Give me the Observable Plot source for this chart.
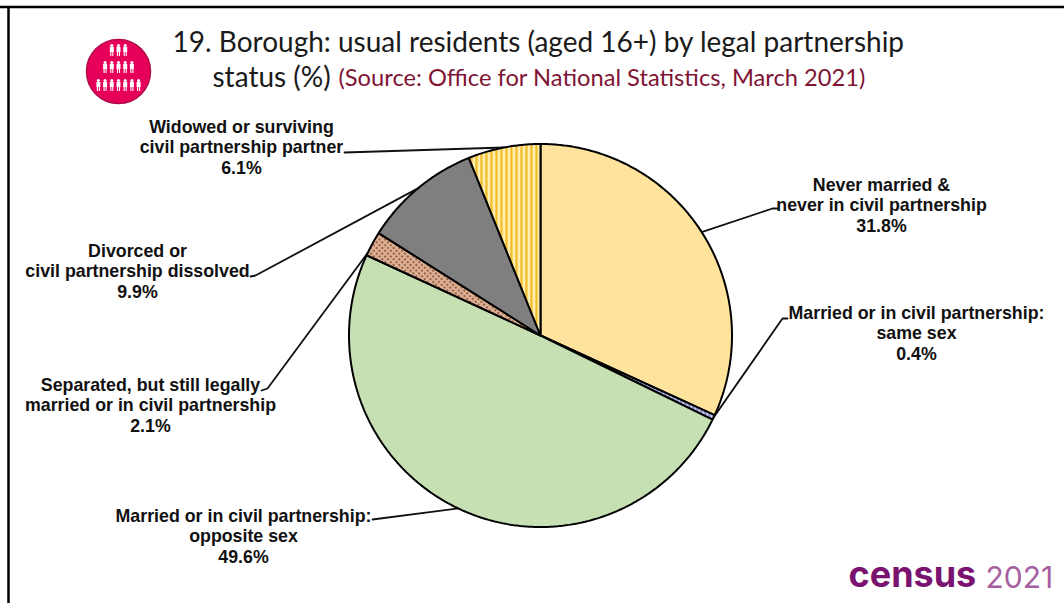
<!DOCTYPE html>
<html>
<head>
<meta charset="utf-8">
<script src="https://cdn.jsdelivr.net/npm/d3@7"></script>
<script src="https://cdn.jsdelivr.net/npm/@observablehq/plot@0.6"></script>
<style>html,body{margin:0;padding:0;background:#fff}svg{display:block}</style>
</head>
<body>
<div id="chart"></div>
<script>
// Data
const categories = [
  "Never married &\nnever in civil partnership",
  "Married or in civil partnership:\nsame sex",
  "Married or in civil partnership:\nopposite sex",
  "Separated, but still legally\nmarried or in civil partnership",
  "Divorced or\ncivil partnership dissolved",
  "Widowed or surviving\ncivil partnership partner"
];
const shares = [31.8, 0.4, 49.6, 2.1, 9.9, 6.1];
const titleLine1 = "19. Borough: usual residents (aged 16+) by legal partnership";
const titleLine2 = "status (%)";
const sourceText = "(Source: Office for National Statistics, March 2021)";
const logoRows = [3, 5, 7];

// Layout
const W = 1064, H = 603, cx = 540, cy = 335, R = 191.5;
const fills = ["url(#pNever)", "url(#pSame)", "#c6e0b4", "url(#pSep)", "#7f7f7f", "url(#pWid)"];
const labelAt = [[881, 204], [916, 332], [243, 535], [150, 404], [137, 270], [241, 146]];
const elbows = [
  [[772, 208], [777, 208]],
  [[782, 318], [787, 318]],
  [[372, 519]],
  [[267, 388], [261, 390]],
  [[255, 275], [250, 276]],
  [[344, 152]]
];
const leaderEndTurn = [null, null, null, 0.8185 + 0.0025, null, null];

const total = d3.sum(shares);
const ends = d3.cumsum(shares, v => v / total);
const polar = (turn, r = R) => ({
  x: cx + r * Math.sin(turn * 2 * Math.PI),
  y: cy - r * Math.cos(turn * 2 * Math.PI)
});
const slices = shares.map((v, i) => {
  const a0 = i ? ends[i - 1] : 0, a1 = ends[i];
  const n = Math.max(2, Math.ceil((a1 - a0) * 720));
  const arc = d3.range(n + 1).map(k => polar(a0 + (a1 - a0) * k / n));
  return [{x: cx, y: cy}, ...arc, {x: cx, y: cy}];
});
const leaders = shares.map((v, i) => {
  const a0 = i ? ends[i - 1] : 0;
  const mid = leaderEndTurn[i] ?? (a0 + ends[i]) / 2;
  return [polar(mid), ...elbows[i].map(([x, y]) => ({x, y}))];
});
const labels = categories.map((c, i) => ({
  text: `${c}\n${shares[i].toFixed(1)}%`, x: labelAt[i][0], y: labelAt[i][1]
}));

// Logo figures
const logoX = 118, logoStep = 6.7, logoY = [49, 66, 84];
const figures = logoRows.flatMap((n, r) =>
  d3.range(n).map(k => ({x: logoX + (k - (n - 1) / 2) * logoStep, y: logoY[r]})));

const defs = () => {
  const d = d3.create("svg:defs");
  d.html(`
  <pattern id="pNever" width="5" height="5" patternUnits="userSpaceOnUse">
    <rect width="5" height="5" fill="#ffe39b"/><circle cx="1.5" cy="1.5" r=".6" fill="#fff0c8"/>
  </pattern>
  <pattern id="pSame" width="4" height="4" patternUnits="userSpaceOnUse">
    <rect width="4" height="4" fill="#c4c4ec"/><rect width="1.4" height="4" fill="#6a6ab0"/>
  </pattern>
  <pattern id="pSep" width="4" height="4" patternUnits="userSpaceOnUse" patternTransform="rotate(45)">
    <rect width="4" height="4" fill="#dcb096"/><rect width="2" height="2" fill="#9a6040"/>
  </pattern>
  <pattern id="pWid" width="5" height="5" patternUnits="userSpaceOnUse">
    <rect width="5" height="5" fill="#ffe27a"/><rect x="0" width="1.6" height="5" fill="#eeb41c"/><rect x="3" width="1.2" height="5" fill="#fff8dc"/>
  </pattern>`);
  return d.node();
};

const sans = "Liberation Sans, Arial, sans-serif";
const titleFont = "Lato, sans-serif";

const plot = Plot.plot({
  width: W, height: H,
  margin: 0,
  style: {background: "#fff", overflow: "hidden"},
  x: {domain: [0, W], range: [0, W], axis: null},
  y: {domain: [0, H], range: [0, H], axis: null},
  marks: [
    defs,
    // frame
    Plot.ruleY([6.5], {x1: 0, x2: W, stroke: "#000", strokeWidth: 2.5}),
    Plot.ruleX([8], {y1: 6, y2: H, stroke: "#000", strokeWidth: 2.5}),
    // leaders below the pie
    ...leaders.map(l => Plot.line(l, {x: "x", y: "y", stroke: "#111", strokeWidth: 1.8})),
    // pie
    ...slices.map((s, i) => Plot.line(s, {x: "x", y: "y", fill: fills[i], stroke: "#000", strokeWidth: 2, strokeLinejoin: "miter"})),
    // labels
    Plot.text(labels, {x: "x", y: "y", text: "text", textAnchor: "middle", lineAnchor: "middle", lineHeight: 1.15, fontFamily: sans, fontWeight: 700, fontSize: 17.8, fill: "#111"}),
    // title
    Plot.text([titleLine1], {x: [172], y: [43], text: d => d, textAnchor: "start", fontFamily: titleFont, fontSize: 28, fill: "#1a1a1a"}),
    Plot.text([titleLine2], {x: [212], y: [78], text: d => d, textAnchor: "start", fontFamily: titleFont, fontSize: 28, fill: "#1a1a1a"}),
    Plot.text([sourceText], {x: [338], y: [78], text: d => d, textAnchor: "start", fontFamily: titleFont, fontSize: 23.7, fill: "#7f1434"}),
    // logo
    Plot.dot([0], {x: [logoX], y: [71], r: 32, fill: "#e6005a", stroke: "#b40a4a", strokeWidth: 1.5}),
    Plot.dot(figures, {x: "x", y: d => d.y - 4, r: 1.6, fill: "#fff", stroke: "none"}),
    Plot.ruleX(figures, {x: "x", y1: d => d.y - 2, y2: d => d.y + 3, stroke: "#fff", strokeWidth: 4}),
    Plot.ruleX(figures, {x: d => d.x - 1, y1: d => d.y + 3, y2: d => d.y + 7, stroke: "#fff", strokeWidth: 1.1}),
    Plot.ruleX(figures, {x: d => d.x + 1, y1: d => d.y + 3, y2: d => d.y + 7, stroke: "#fff", strokeWidth: 1.1}),
    // census logo
    Plot.text(["census"], {x: [848], y: [575], text: d => d, textAnchor: "start", fontFamily: "Inter, sans-serif", fontWeight: 700, fontSize: 36, fill: "#7a126f"}),
    Plot.text(["2021"], {x: [985], y: [578], text: d => d, textAnchor: "start", fontFamily: "Inter, sans-serif", fontWeight: 400, fontSize: 30, fill: "#a7609f"})
  ]
});
document.getElementById("chart").append(plot);
</script>
</body>
</html>
